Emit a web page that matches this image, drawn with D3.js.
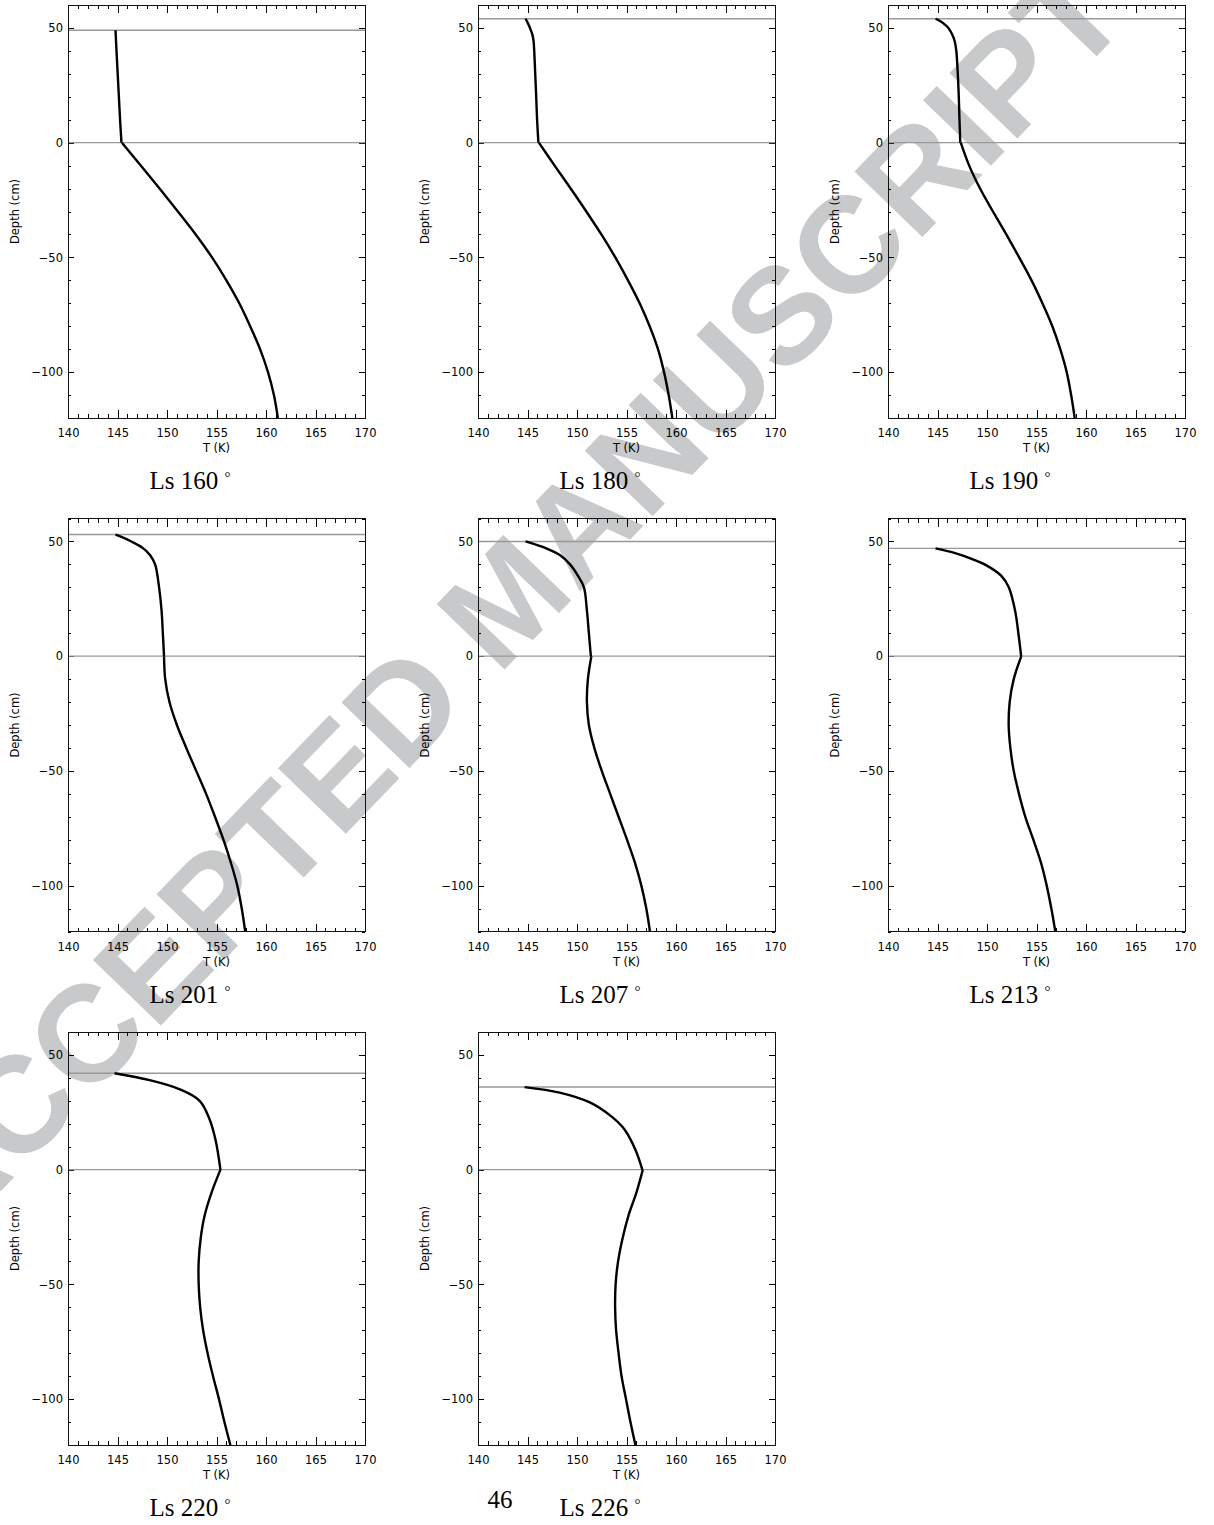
<!DOCTYPE html>
<html>
<head>
<meta charset="utf-8">
<style>
html, body { margin: 0; background: #fff; }
svg { display: block; }
.axis text { font: 11.5px "DejaVu Sans", sans-serif; fill: #000; }
.axis line { stroke: #000; shape-rendering: crispEdges; }
.axis path { display: none; }
.lbl { font: 11.5px "DejaVu Sans", sans-serif; fill: #000; }
.title { font: 25px "Liberation Serif", "Times New Roman", serif; fill: #000; }
</style>
</head>
<body>
<svg width="1214" height="1525"></svg>
<script src="https://d3js.org/d3.v7.min.js"></script>
<script>
// values: T (K) vs depth (cm)
var titles = ["Ls 160", "Ls 180", "Ls 190", "Ls 201", "Ls 207", "Ls 213", "Ls 220", "Ls 226"];
var surfaceDepth = [49, 54, 54, 53, 50, 47, 42, 36];

var snowDepth = [
  [49, 40, 30, 20, 10, 0],
  [54, 52, 50, 47, 44, 40, 30, 20, 10, 0],
  [54, 53, 52, 50, 47, 44, 40, 30, 20, 10, 0],
  [53, 52, 50, 47, 44, 40, 30, 20, 10, 0],
  [50, 47, 44, 40, 35, 30, 20, 10, 0],
  [47, 45, 42, 40, 35, 30, 20, 10, 0],
  [42, 39, 35, 30, 22, 13, 0],
  [36, 33.6, 29.3, 23.1, 17.5, 8.7, 0]
];
var snowTemp = [
  [144.8, 144.9, 145.02, 145.14, 145.26, 145.4],
  [144.8, 145.05, 145.25, 145.5, 145.62, 145.68, 145.78, 145.88, 145.97, 146.1],
  [144.8, 145.25, 145.6, 146.1, 146.5, 146.75, 146.9, 147.05, 147.15, 147.22, 147.3],
  [144.8, 145.4, 146.4, 147.6, 148.3, 148.8, 149.2, 149.45, 149.58, 149.7],
  [144.8, 146.9, 148.3, 149.3, 150.1, 150.7, 151.0, 151.2, 151.4],
  [144.8, 146.7, 148.7, 149.76, 151.45, 152.2, 152.83, 153.17, 153.45],
  [144.7, 148.25, 151.3, 153.3, 154.3, 154.9, 155.4],
  [144.7, 148.25, 151.3, 153.5, 154.8, 155.9, 156.6]
];

var groundDepth = [0, -10, -20, -30, -40, -50, -60, -70, -80, -90, -100, -110, -120];
var groundTemp = [
  [145.45, 147.35, 149.25, 151.1, 152.9, 154.55, 156.0, 157.3, 158.4, 159.4, 160.2, 160.8, 161.2],
  [146.15, 147.74, 149.36, 150.94, 152.46, 153.87, 155.15, 156.33, 157.34, 158.18, 158.79, 159.26, 159.63],
  [147.35, 148.2, 149.3, 150.6, 151.95, 153.25, 154.5, 155.6, 156.6, 157.4, 158.05, 158.5, 158.86],
  [149.7, 149.82, 150.25, 151.0, 151.95, 152.95, 153.95, 154.85, 155.7, 156.45, 157.1, 157.55, 157.9],
  [151.45, 151.1, 151.0, 151.2, 151.75, 152.5, 153.35, 154.2, 155.05, 155.85, 156.5, 157.0, 157.37],
  [153.47, 152.7, 152.29, 152.19, 152.36, 152.7, 153.23, 153.87, 154.68, 155.45, 156.03, 156.5, 156.9],
  [155.4, 154.5, 153.8, 153.4, 153.2, 153.2, 153.35, 153.65, 154.1, 154.65, 155.25, 155.8, 156.4],
  [156.65, 156.0, 155.2, 154.6, 154.15, 153.9, 153.85, 153.95, 154.2, 154.5, 154.95, 155.4, 155.9]
];

var xMajor = [140, 145, 150, 155, 160, 165, 170];
var yMajor = [-100, -50, 0, 50];

var svg = d3.select("svg");
var width = 297, height = 413;

// watermark (drawn first, under the plots)
svg.append("text")
   .attr("transform", "translate(505,598) rotate(-46)")
   .attr("text-anchor", "middle")
   .attr("dy", "0.36em")
   .style("font", "bold 137px 'Liberation Sans', Arial, sans-serif")
   .style("fill", "#c8c9ca")
   .text("ACCEPTED MANUSCRIPT");

var x = d3.scaleLinear().domain([140, 170]).range([0, width]);
var y = d3.scaleLinear().domain([-120, 60]).range([height, 0]);

var line = d3.line()
    .x(function(d) { return x(d[0]); })
    .y(function(d) { return y(d[1]); })
    .curve(d3.curveCatmullRom.alpha(0.5));

titles.forEach(function(title, i) {
    var col = i % 3, row = Math.floor(i / 3);
    var left = 68 + col * 410, top = 5 + row * 513.5;
    var g = svg.append("g").attr("transform", "translate(" + left + "," + top + ")");

    // ticks, IDL style (inward, minor + major)
    g.append("g").attr("class", "axis").attr("transform", "translate(0," + height + ")")
        .call(d3.axisBottom(x).tickValues(d3.range(140, 171, 1)).tickSize(-4).tickFormat(""));
    g.append("g").attr("class", "axis").attr("transform", "translate(0," + height + ")")
        .call(d3.axisBottom(x).tickValues(xMajor).tickSize(-8).tickPadding(11).tickFormat(d3.format("d")));
    g.append("g").attr("class", "axis")
        .call(d3.axisTop(x).tickValues(d3.range(140, 171, 1)).tickSize(-4).tickFormat(""));
    g.append("g").attr("class", "axis")
        .call(d3.axisTop(x).tickValues(xMajor).tickSize(-8).tickFormat(""));
    g.append("g").attr("class", "axis")
        .call(d3.axisLeft(y).tickValues(d3.range(-120, 61, 10)).tickSize(-3).tickFormat(""));
    g.append("g").attr("class", "axis")
        .call(d3.axisLeft(y).tickValues(yMajor).tickSize(-6).tickPadding(5));
    g.append("g").attr("class", "axis").attr("transform", "translate(" + width + ",0)")
        .call(d3.axisRight(y).tickValues(d3.range(-120, 61, 10)).tickSize(-3).tickFormat(""));
    g.append("g").attr("class", "axis").attr("transform", "translate(" + width + ",0)")
        .call(d3.axisRight(y).tickValues(yMajor).tickSize(-6).tickFormat(""));

    // ground level and snow surface
    [0, surfaceDepth[i]].forEach(function(d) {
        g.append("line")
         .attr("x1", 0).attr("x2", width)
         .attr("y1", y(d)).attr("y2", y(d))
         .style("stroke", "#999").style("stroke-width", 1.4);
    });

    g.append("rect")
     .attr("width", width).attr("height", height)
     .style("fill", "none").style("stroke", "#111").style("stroke-width", 1)
     .style("shape-rendering", "crispEdges");

    var snow = snowDepth[i].map(function(d, k) { return [snowTemp[i][k], d]; });
    var ground = groundDepth.map(function(d, k) { return [groundTemp[i][k], d]; });
    [snow, ground].forEach(function(pts) {
        g.append("path").datum(pts)
         .attr("d", line)
         .style("fill", "none").style("stroke", "#000").style("stroke-width", 2.4);
    });

    g.append("text").attr("class", "lbl")
     .attr("x", width / 2).attr("y", height + 34)
     .attr("text-anchor", "middle").text("T (K)");

    g.append("text").attr("class", "lbl")
     .attr("transform", "translate(-49," + (height / 2) + ") rotate(-90)")
     .attr("text-anchor", "middle").text("Depth (cm)");

    var t = g.append("text").attr("class", "title")
     .attr("x", 122).attr("y", height + 71)
     .attr("text-anchor", "middle");
    t.append("tspan").text(title + " ");
    t.append("tspan").attr("dy", -7).style("font-size", "15px").text("\u00b0");
});

svg.append("text").attr("class", "title")
   .attr("x", 500).attr("y", 1508)
   .attr("text-anchor", "middle").text("46");
</script>
</body>
</html>
